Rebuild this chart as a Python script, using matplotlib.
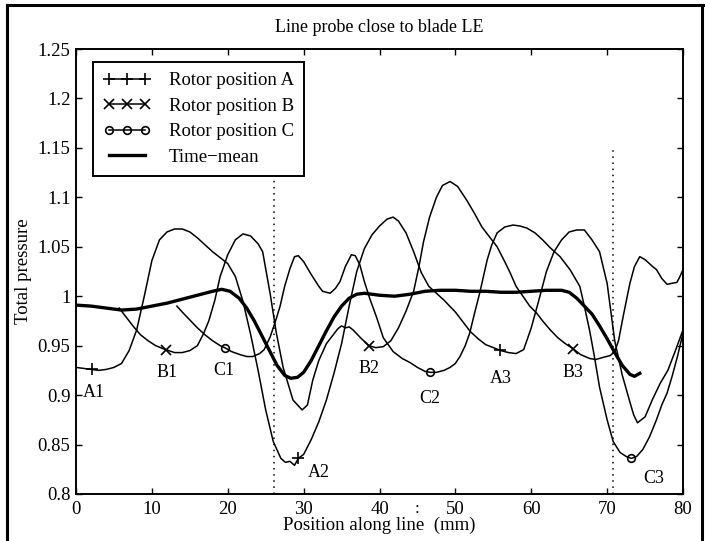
import numpy as np
import matplotlib
matplotlib.use("Agg")
import matplotlib.pyplot as plt
from matplotlib.lines import Line2D

plt.rcParams['font.family'] = ['Liberation Serif', 'DejaVu Serif']

# rotor position A, sampled along the probe line (mm, total pressure)
xa = [0, 1, 2, 3, 4, 5, 6, 7, 8, 9, 10, 11, 12, 13, 14, 15, 16, 17, 18, 19,
      20, 21, 22, 23, 24, 25, 26, 27, 27.6, 28.2, 28.8, 29.3, 30, 31, 32, 33,
      34, 35, 36, 37, 38, 39, 40, 41, 41.8, 42.5, 43.5, 44.5, 45.5, 46.5,
      47.5, 48.5, 50, 51, 52, 53, 54, 55, 56, 57, 58, 59, 60, 61, 62, 63, 64,
      65, 66, 67, 68, 69, 70, 71, 72, 73, 73.5, 74, 75, 76, 77, 78, 79, 80]
ya = [0.928, 0.927, 0.926, 0.925, 0.926, 0.928, 0.932, 0.945, 0.966, 1.000,
      1.036, 1.057, 1.065, 1.068, 1.068, 1.065, 1.059, 1.052, 1.045, 1.039,
      1.033, 1.020, 0.995, 0.962, 0.925, 0.885, 0.853, 0.836, 0.832, 0.833,
      0.829, 0.836, 0.840, 0.855, 0.873, 0.895, 0.922, 0.952, 0.990, 1.025,
      1.048, 1.062, 1.071, 1.078, 1.080, 1.076, 1.064, 1.045, 1.024, 1.010,
      1.003, 0.996, 0.984, 0.974, 0.964, 0.957, 0.951, 0.948, 0.945, 0.943,
      0.942, 0.946, 0.968, 0.996, 1.025, 1.045, 1.057, 1.065, 1.067, 1.067,
      1.057, 1.045, 1.013, 0.955, 0.920, 0.893, 0.880, 0.872, 0.878, 0.896,
      0.912, 0.925, 0.945, 0.966]

# rotor position B
xb = [5.7, 6.5, 7.5, 8.5, 9.5, 10.5, 11.8, 13, 14, 15, 16, 16.8, 17.5, 18.3,
      19, 20, 21, 22, 23, 24, 24.6, 25.6, 26.4, 27.3, 28.6, 29.8, 30.5, 31.2,
      32, 33, 34, 34.5, 35, 35.5, 36, 36.5, 37.5, 38.6, 39.5, 40.5, 41.5,
      42.5, 43.5, 44.5, 45.2, 45.8, 46.6, 47.5, 48.3, 49.3, 50.3, 51.5, 52.5,
      53.5, 54.5, 55.5, 56.5, 57.2, 58, 58.9, 59.8, 60.7, 61.5, 62.5, 63.5,
      64.5, 65.5, 66.5, 67.7, 68.5, 69.4, 70.4, 71, 71.5, 72.1, 72.6, 73,
      73.6, 74.3, 75, 76, 76.5, 77.2, 77.9, 78.5, 79.2, 79.6, 80]
yb = [0.988, 0.980, 0.970, 0.961, 0.955, 0.950, 0.946, 0.943, 0.943, 0.945,
      0.950, 0.962, 0.975, 0.996, 1.020, 1.042, 1.057, 1.063, 1.061, 1.053,
      1.045, 1.002, 0.963, 0.928, 0.895, 0.885, 0.890, 0.915, 0.935, 0.952,
      0.962, 0.967, 0.970, 0.968, 0.969, 0.966, 0.958, 0.950, 0.948, 0.949,
      0.955, 0.968, 0.985, 1.005, 1.030, 1.055, 1.080, 1.100, 1.112, 1.116,
      1.111, 1.097, 1.084, 1.070, 1.060, 1.050, 1.035, 1.024, 1.010, 1.000,
      0.990, 0.983, 0.975, 0.966, 0.958, 0.952, 0.947, 0.941, 0.937, 0.936,
      0.938, 0.940, 0.944, 0.955, 0.979, 0.998, 1.013, 1.030, 1.040, 1.037,
      1.030, 1.027, 1.018, 1.012, 1.013, 1.014, 1.020, 1.027]

# rotor position C
xc = [13.3, 14, 15, 16, 17, 18, 19, 19.6, 20.5, 21.6, 22.5, 23.3, 24.2, 24.8,
      25.6, 26.3, 26.9, 27.5, 28.2, 28.8, 29.3, 30, 31, 32, 32.5, 33.5, 34.2,
      34.8, 35.5, 36.3, 36.8, 37.4, 38, 38.7, 39.6, 40.5, 41.8, 43, 44, 45, 46,
      46.7, 47.5, 48.5, 49.3, 50, 50.6, 51.3, 51.9, 52.5, 53.2, 53.7, 54.2,
      54.8, 55.5, 56.5, 57.6, 58.5, 59.4, 60.5, 61.5, 62.5, 63.8, 65.1, 66.4,
      67, 67.7, 68.3, 69, 70, 70.8, 71.7, 72.5, 73.2, 73.9, 74.7, 75.6, 76.5,
      77.2, 77.9, 78.6, 79.3, 80]
yc = [0.990, 0.984, 0.976, 0.968, 0.961, 0.955, 0.950, 0.948, 0.944, 0.941,
      0.939, 0.939, 0.942, 0.946, 0.959, 0.975, 0.990, 1.010, 1.028, 1.040,
      1.041, 1.035, 1.022, 1.010, 1.005, 1.003, 1.008, 1.015, 1.030, 1.042,
      1.041, 1.032, 1.015, 0.998, 0.979, 0.958, 0.944, 0.937, 0.933, 0.928,
      0.924, 0.923, 0.923, 0.925, 0.928, 0.932, 0.939, 0.950, 0.963, 0.982,
      1.003, 1.020, 1.037, 1.052, 1.064, 1.070, 1.072, 1.071, 1.069, 1.064,
      1.057, 1.049, 1.040, 1.027, 1.010, 0.990, 0.965, 0.940, 0.908, 0.875,
      0.853, 0.842, 0.838, 0.836, 0.838, 0.845, 0.858, 0.875, 0.890, 0.902,
      0.920, 0.940, 0.963]

# time-mean
xm = [0, 2, 4, 6, 8, 10, 12, 14, 16, 18, 19.2, 20.3, 21.5, 22.5, 23.5, 24.5,
      25.5, 26.5, 27.5, 28.3, 29.2, 30, 31, 32, 33, 34, 35, 36, 37, 38, 40,
      42, 44, 46, 48, 50, 52, 54, 56, 58, 60, 62, 64, 65, 66, 67, 68, 69, 70,
      71, 72, 73, 73.6, 74.3]
ym = [0.991, 0.990, 0.988, 0.986, 0.987, 0.990, 0.993, 0.997, 1.001, 1.005,
      1.007, 1.005, 0.998, 0.988, 0.975, 0.960, 0.945, 0.930, 0.920, 0.917,
      0.918, 0.923, 0.935, 0.950, 0.965, 0.979, 0.990, 0.998, 1.002, 1.003,
      1.001, 1.000, 1.002, 1.005, 1.006, 1.006, 1.005, 1.005, 1.004, 1.004,
      1.005, 1.006, 1.006, 1.004, 0.998, 0.990, 0.982, 0.970, 0.957, 0.943,
      0.930, 0.921, 0.919, 0.922]

# marked rotor positions and their labels
mark_a = [2.1, 29.3, 55.9]
mark_b = [11.8, 38.6, 65.5]
mark_c = [19.6, 46.7, 73.2]
label_names = ['A1', 'B1', 'C1', 'A2', 'B2', 'C2', 'A3', 'B3', 'C3']
label_x = [2.3, 12.0, 19.5, 32.0, 38.6, 46.6, 56.0, 65.5, 76.2]
label_y = [0.903, 0.923, 0.925, 0.822, 0.927, 0.897, 0.917, 0.923, 0.816]

# blade leading edge positions
le_x = [26.1, 70.8]
le_top = [1.12, 1.148]

fig = plt.figure(figsize=(7.05, 5.41), dpi=100)
ax = fig.add_axes([0.1078, 0.0869, 0.8610, 0.8225])

lw = 1.1
ax.plot(xa, ya, color='black', lw=lw)
ax.plot(xb, yb, color='black', lw=lw)
ax.plot(xc, yc, color='black', lw=lw)
ax.plot(xm, ym, color='black', lw=2.4)

ax.plot(mark_a, np.interp(mark_a, xa, ya), ls='none', marker='+',
        ms=8, mew=1.2, color='black')
ax.plot(mark_b, np.interp(mark_b, xb, yb), ls='none', marker='x',
        ms=6.5, mew=1.2, color='black')
ax.plot(mark_c, np.interp(mark_c, xc, yc), ls='none', marker='o',
        ms=5.5, mew=1.2, mfc='none', color='black')

for x, top in zip(le_x, le_top):
    ax.plot([x, x], [0.8, top], color='black', lw=1.1, ls=(0, (1, 3)))

for name, x, y in zip(label_names, label_x, label_y):
    ax.text(x, y, name, ha='center', va='center', fontsize=13)

ax.set_xlim(0, 80)
ax.set_ylim(0.8, 1.25)
ax.set_xticks(np.arange(0, 81, 10))
yt = np.arange(0.8, 1.2501, 0.05)
ax.set_yticks(yt)
ax.set_yticklabels(['%g' % round(v, 2) for v in yt])
ax.tick_params(direction='in', top=True, right=True, length=4, width=1,
               labelsize=13.5)
ax.tick_params(axis='x', pad=5)
ax.tick_params(axis='y', pad=4)
for s in ax.spines.values():
    s.set_linewidth(1.4)

ax.set_title('Line probe close to blade LE', fontsize=13, pad=12)
ax.set_xlabel('Position along line  (mm)', fontsize=13.5, labelpad=-1)
ax.set_ylabel('Total pressure', fontsize=13.5, labelpad=4)
# stray colon between the 40 and 50 tick labels
ax.text(45, 0.785, ':', ha='center', va='center', fontsize=12)

handles = [
    Line2D([], [], color='black', lw=lw, marker='+', ms=8, mew=1.2),
    Line2D([], [], color='black', lw=lw, marker='x', ms=6.5, mew=1.2),
    Line2D([], [], color='black', lw=lw, marker='o', ms=5.5, mew=1.2,
           mfc='none'),
    Line2D([], [], color='black', lw=2.4),
]
leg = ax.legend(handles, ['Rotor position A', 'Rotor position B',
                          'Rotor position C', 'Time\u2212mean'],
                loc='upper left', bbox_to_anchor=(0.028, 0.971),
                borderaxespad=0, numpoints=3, handlelength=2.5,
                fontsize=13.5, fancybox=False, framealpha=1,
                edgecolor='black', borderpad=0.55, labelspacing=0.45,
                handletextpad=1.0)
leg.get_frame().set_linewidth(1.4)

# outer border around the figure
for xs, ys in [([0.010, 0.010], [0.0, 0.991]),
               ([0.010, 1.0], [0.991, 0.991]),
               ([0.996, 0.996], [0.0, 0.991])]:
    fig.add_artist(Line2D(xs, ys, color='black', lw=2.2,
                          transform=fig.transFigure))

fig.savefig('out.png', dpi=100)
